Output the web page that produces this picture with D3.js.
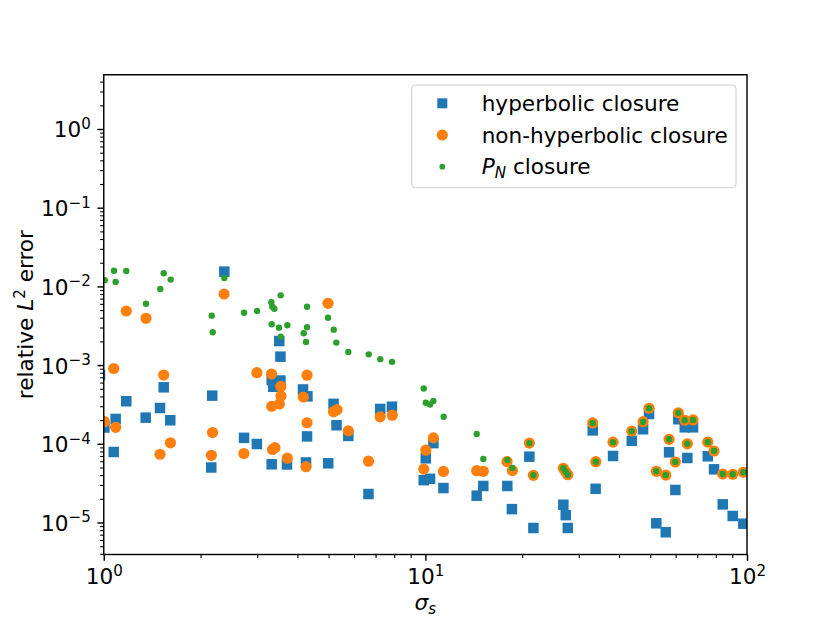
<!DOCTYPE html>
<html lang="en">
<head>
    <meta charset="UTF-8">
    <title>relative L2 error vs sigma_s</title>
    <script src="https://d3js.org/d3.v7.min.js"></script>
    <style>
        body { margin: 0; background: #fff; }
        text { font-family: "DejaVu Sans", sans-serif; fill: #000; }
    </style>
</head>
<body>
    <svg width="830" height="623"></svg>
    <script>
        // hyperbolic closure
        const hypX = [0.973, 1.005, 1.074, 1.089, 1.175, 1.350, 1.496, 1.536, 1.610, 2.159,
                      2.174, 2.371, 2.730, 2.993, 3.328, 3.366, 3.543, 3.514, 3.543, 3.328,
                      3.713, 4.164, 4.298, 4.286, 4.255, 4.988, 5.182, 5.293, 5.760, 6.654,
                      7.236, 7.870, 9.883, 10.34, 10.03, 10.59, 11.38, 14.44, 15.14, 17.98,
                      18.58, 21.05, 21.67, 26.85, 27.32, 27.72, 33.14, 33.84, 38.33, 43.82,
                      47.52, 49.59, 52.25, 55.90, 57.24, 59.88, 61.17, 64.04, 65.24, 67.95,
                      75.51, 78.98, 84.06, 90.30, 97.41];
        const hypY = [7.48e-4, 1.61e-4, 7.87e-5, 2.07e-4, 3.47e-4, 2.15e-4, 2.85e-4, 5.22e-4, 1.99e-4, 5.00e-5,
                      4.09e-4, 1.54e-2, 1.19e-4, 9.94e-5, 6.47e-4, 5.30e-4, 6.37e-4, 2.02e-3, 1.28e-3, 5.49e-5,
                      5.46e-5, 4.90e-4, 4.01e-4, 1.24e-4, 5.79e-5, 5.65e-5, 3.22e-4, 1.72e-4, 1.26e-4, 2.30e-5,
                      2.77e-4, 2.96e-4, 3.45e-5, 3.59e-5, 6.54e-5, 1.02e-4, 2.74e-5, 2.19e-5, 2.91e-5, 2.91e-5,
                      1.48e-5, 6.86e-5, 8.51e-6, 1.68e-5, 1.24e-5, 8.51e-6, 1.48e-4, 2.68e-5, 7.00e-5, 1.09e-4,
                      1.53e-4, 2.39e-4, 9.77e-6, 7.51e-6, 7.80e-5, 2.59e-5, 2.05e-4, 1.62e-4, 6.60e-5, 1.62e-4,
                      6.94e-5, 4.74e-5, 1.70e-5, 1.21e-5, 9.66e-6];

        // non-hyperbolic closure
        const nonX = [1.005, 1.074, 1.089, 1.175, 1.353, 1.496, 1.536, 1.612, 2.161, 2.179,
                      2.367, 2.727, 2.993, 3.324, 3.328, 3.348, 3.405, 3.552, 3.557, 3.514,
                      3.722, 4.286, 4.174, 4.286, 4.255, 4.981, 5.182, 5.313, 5.760, 6.654,
                      7.236, 7.893, 9.883, 10.03, 10.59, 11.38, 14.44, 15.14, 17.94, 18.64,
                      21.05, 21.67, 26.85, 27.32, 27.72, 33.14, 33.88, 38.33, 43.82, 47.52,
                      49.59, 52.25, 55.90, 57.24, 59.88, 61.17, 64.04, 65.24, 67.95, 75.51,
                      78.98, 84.06, 90.30, 97.41];
        const nonY = [1.91e-4, 9.05e-4, 1.62e-4, 4.87e-3, 3.93e-3, 7.36e-5, 7.48e-4, 1.03e-4, 7.14e-5, 1.39e-4,
                      8.00e-3, 7.53e-5, 8.00e-4, 7.71e-4, 3.00e-4, 8.47e-5, 8.92e-5, 5.35e-4, 4.05e-4, 3.21e-4,
                      6.56e-5, 7.44e-4, 3.93e-4, 1.85e-4, 5.12e-5, 6.10e-3, 2.56e-4, 2.71e-4, 1.46e-4, 6.01e-5,
                      2.20e-4, 2.31e-4, 4.76e-5, 8.29e-5, 1.19e-4, 4.45e-5, 4.55e-5, 4.47e-5, 5.96e-5, 4.58e-5,
                      1.02e-4, 3.98e-5, 4.89e-5, 4.42e-5, 4.05e-5, 1.84e-4, 5.92e-5, 1.05e-4, 1.45e-4, 1.91e-4,
                      2.83e-4, 4.47e-5, 4.01e-5, 1.14e-4, 5.87e-5, 2.48e-4, 1.99e-4, 1.00e-4, 2.01e-4, 1.05e-4,
                      8.10e-5, 4.13e-5, 4.10e-5, 4.35e-5];

        // P_N closure
        const pnX = [1.007, 1.076, 1.089, 1.175, 1.353, 1.499, 1.536, 1.615, 2.166, 2.182,
                     2.371, 2.730, 2.996, 3.319, 3.343, 3.391, 3.549, 3.328, 3.507, 3.722,
                     3.549, 4.286, 4.286, 4.185, 4.255, 4.981, 5.189, 5.286, 5.760, 6.666,
                     7.242, 7.877, 9.883, 10.03, 10.34, 10.59, 11.40, 14.44, 15.14, 17.98,
                     18.64, 21.05, 21.67, 26.85, 27.32, 27.72, 33.14, 33.88, 38.33, 43.82,
                     47.52, 49.59, 52.25, 55.90, 57.24, 59.88, 61.17, 64.04, 65.24, 67.95,
                     75.51, 78.98, 84.06, 90.30, 97.41];
        const pnY = [1.20e-2, 1.58e-2, 1.14e-2, 1.57e-2, 6.03e-3, 9.27e-3, 1.47e-2, 1.22e-2, 4.25e-3, 2.61e-3,
                     1.28e-2, 4.63e-3, 4.87e-3, 6.28e-3, 5.52e-3, 5.21e-3, 7.70e-3, 3.30e-3, 2.99e-3, 3.21e-3,
                     2.30e-3, 5.52e-3, 3.02e-3, 2.54e-3, 1.97e-3, 4.00e-3, 2.82e-3, 1.93e-3, 1.47e-3, 1.37e-3,
                     1.19e-3, 1.10e-3, 5.04e-4, 3.33e-4, 3.16e-4, 3.50e-4, 2.21e-4, 1.33e-4, 6.41e-5, 6.22e-5,
                     4.93e-5, 1.02e-4, 3.98e-5, 4.89e-5, 4.42e-5, 4.05e-5, 1.84e-4, 5.92e-5, 1.05e-4, 1.45e-4,
                     1.91e-4, 2.83e-4, 4.47e-5, 4.01e-5, 1.14e-4, 5.87e-5, 2.48e-4, 1.99e-4, 1.00e-4, 2.01e-4,
                     1.05e-4, 8.10e-5, 4.13e-5, 4.10e-5, 4.35e-5];

        const xMajor = [0, 1, 2];              // exponents of 10
        const yMajor = [-5, -4, -3, -2, -1, 0];
        const labels = ["hyperbolic closure", "non-hyperbolic closure", "closure"];

        const blue = "#1f77b4", orange = "#ff7f0e", green = "#2ca02c";
        const fs = 21.6, fsSmall = 15.1;

        const svg = d3.select("svg");
        const pL = 103.75, pR = 747, pT = 74.75, pB = 554.5;

        const x = d3.scaleLog().domain([1, 100]).range([pL, pR]);
        const y = d3.scaleLog().domain([3.92e-6, 4.89]).range([pB, pT]);

        const zip = (xs, ys) => xs.map((v, i) => [v, ys[i]]);

        svg.append("clipPath").attr("id", "plot")
           .append("rect")
           .attr("x", pL).attr("y", pT)
           .attr("width", pR - pL).attr("height", pB - pT);

        const pts = svg.append("g").attr("clip-path", "url(#plot)");

        const sq = 10.5;
        pts.selectAll(".hyp")
           .data(zip(hypX, hypY))
           .enter().append("rect")
           .attr("class", "hyp")
           .attr("x", d => x(d[0]) - sq / 2)
           .attr("y", d => y(d[1]) - sq / 2)
           .attr("width", sq).attr("height", sq)
           .attr("fill", blue);

        pts.selectAll(".non")
           .data(zip(nonX, nonY))
           .enter().append("circle")
           .attr("class", "non")
           .attr("cx", d => x(d[0]))
           .attr("cy", d => y(d[1]))
           .attr("r", 5.6)
           .attr("fill", orange);

        pts.selectAll(".pn")
           .data(zip(pnX, pnY))
           .enter().append("circle")
           .attr("class", "pn")
           .attr("cx", d => x(d[0]))
           .attr("cy", d => y(d[1]))
           .attr("r", 3.2)
           .attr("fill", green);

        // minor ticks
        const xMinor = [];
        for (let e = 0; e < 2; e++) for (let k = 2; k <= 9; k++) xMinor.push(k * Math.pow(10, e));
        const yMinor = [];
        for (let e = -6; e <= 0; e++) for (let k = 2; k <= 9; k++) {
            const v = k * Math.pow(10, e);
            if (v >= 3.92e-6 && v <= 4.89) yMinor.push(v);
        }

        function styleAxis(g) {
            g.select(".domain").remove();
            g.selectAll("line").attr("stroke", "#000");
        }

        svg.append("g")
           .attr("transform", `translate(0,${pB})`)
           .call(d3.axisBottom(x).tickValues(xMinor).tickSize(3.6).tickFormat(""))
           .call(styleAxis)
           .selectAll("line").attr("stroke-width", 1.1);

        svg.append("g")
           .attr("transform", `translate(${pL},0)`)
           .call(d3.axisLeft(y).tickValues(yMinor).tickSize(3.6).tickFormat(""))
           .call(styleAxis)
           .selectAll("line").attr("stroke-width", 1.1);

        const xAx = svg.append("g")
           .attr("transform", `translate(0,${pB})`)
           .call(d3.axisBottom(x).tickValues(xMajor.map(e => Math.pow(10, e))).tickSize(6.3).tickFormat(""))
           .call(styleAxis);
        xAx.selectAll("line").attr("stroke-width", 1.45);

        const yAx = svg.append("g")
           .attr("transform", `translate(${pL},0)`)
           .call(d3.axisLeft(y).tickValues(yMajor.map(e => Math.pow(10, e))).tickSize(6.3).tickFormat(""))
           .call(styleAxis);
        yAx.selectAll("line").attr("stroke-width", 1.45);

        function pow10(t, e) {
            t.attr("font-size", fs).text("10");
            t.append("tspan")
             .attr("font-size", fsSmall)
             .attr("dy", -8.5)
             .text(e < 0 ? "\u2212" + (-e) : String(e));
        }

        xAx.selectAll(".tick").each(function (d, i) {
            const t = d3.select(this).append("text")
                .attr("y", 29.5).attr("text-anchor", "middle");
            pow10(t, xMajor[i]);
        });

        yAx.selectAll(".tick").each(function (d, i) {
            const t = d3.select(this).append("text")
                .attr("x", -13).attr("y", 8).attr("text-anchor", "end");
            pow10(t, yMajor[i]);
        });

        // frame
        svg.append("rect")
           .attr("x", pL).attr("y", pT)
           .attr("width", pR - pL).attr("height", pB - pT)
           .attr("fill", "none").attr("stroke", "#000").attr("stroke-width", 1.45);

        // axis labels
        const xl = svg.append("text")
           .attr("x", (pL + pR) / 2).attr("y", 610)
           .attr("text-anchor", "middle").attr("font-size", fs);
        xl.append("tspan").attr("font-style", "italic").text("\u03c3");
        xl.append("tspan").attr("font-style", "italic").attr("font-size", fsSmall)
          .attr("dy", 4).text("s");

        const yl = svg.append("text")
           .attr("transform", `translate(33,${(pT + pB) / 2}) rotate(-90)`)
           .attr("text-anchor", "middle").attr("font-size", fs);
        yl.append("tspan").text("relative ");
        yl.append("tspan").attr("font-style", "italic").text("L");
        yl.append("tspan").attr("font-size", fsSmall).attr("dy", -8.5).text("2");
        yl.append("tspan").attr("dy", 8.5).text(" error");

        // legend
        const lg = svg.append("g");
        lg.append("rect")
          .attr("x", 411.7).attr("y", 85)
          .attr("width", 324.3).attr("height", 102.7)
          .attr("rx", 3.6)
          .attr("fill", "#fff").attr("fill-opacity", 0.8)
          .attr("stroke", "#cccccc").attr("stroke-width", 1);

        const rows = [103.3, 135, 166.7];
        lg.append("rect")
          .attr("x", 442.3 - 5).attr("y", rows[0] - 5)
          .attr("width", 10).attr("height", 10).attr("fill", blue);
        lg.append("circle").attr("cx", 442.3).attr("cy", rows[1]).attr("r", 5.6).attr("fill", orange);
        lg.append("circle").attr("cx", 442.3).attr("cy", rows[2]).attr("r", 2.9).attr("fill", green);

        lg.append("text").attr("x", 481.7).attr("y", rows[0] + 7.5)
          .attr("font-size", fs).text(labels[0]);
        lg.append("text").attr("x", 481.7).attr("y", rows[1] + 7.5)
          .attr("font-size", fs).text(labels[1]);
        const pl = lg.append("text").attr("x", 481.7).attr("y", rows[2] + 7.5)
          .attr("font-size", fs);
        pl.append("tspan").attr("font-style", "italic").text("P");
        pl.append("tspan").attr("font-style", "italic").attr("font-size", fsSmall)
          .attr("dy", 4).text("N");
        pl.append("tspan").attr("dy", -4).text(" " + labels[2]);
    </script>
</body>
</html>
